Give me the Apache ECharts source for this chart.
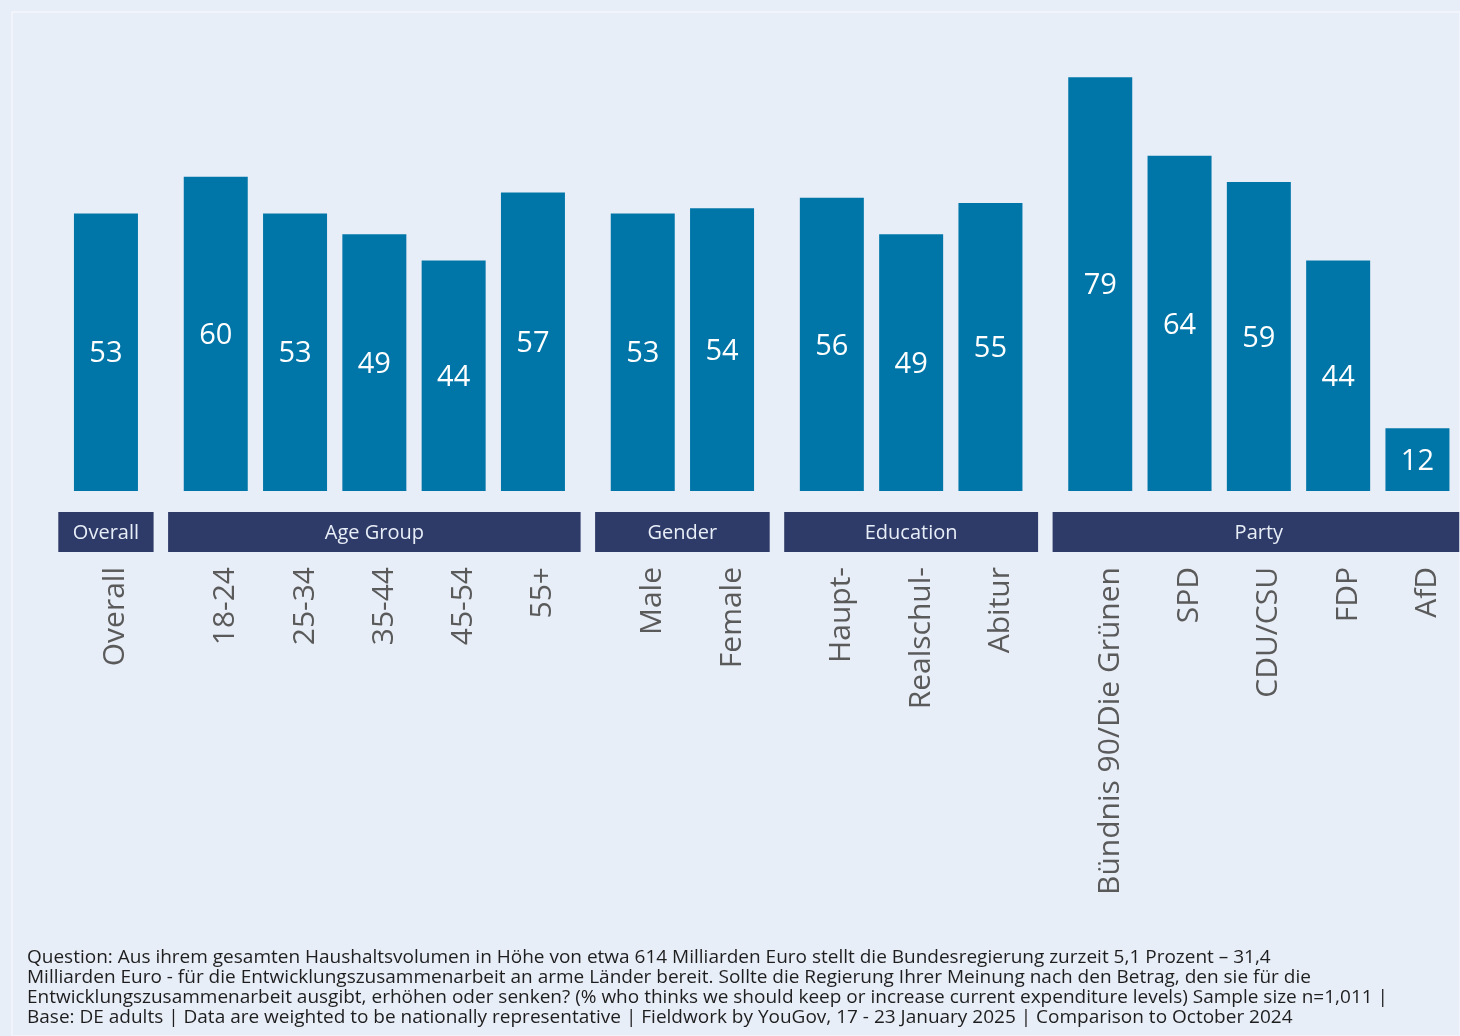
<!DOCTYPE html>
<html>
<head>
<meta charset="utf-8">
<script src="https://cdn.jsdelivr.net/npm/echarts@6/dist/echarts.min.js"></script>
<style>
  html, body { margin: 0; padding: 0; background: #e8eef8; }
  #chart { width: 1460px; height: 1036px; }
</style>
</head>
<body>
<div id="chart"></div>
<script>
// Survey groups and their sizes (number of bars per group)
const groupNames = ['Overall', 'Age Group', 'Gender', 'Education', 'Party'];
const groupSizes = [1, 5, 2, 3, 5];

// Bar categories, in order across the groups
const categories = [
  'Overall',
  '18-24', '25-34', '35-44', '45-54', '55+',
  'Male', 'Female',
  'Haupt-', 'Realschul-', 'Abitur',
  'Bündnis 90/Die Grünen', 'SPD', 'CDU/CSU', 'FDP', 'AfD'
];

// % who think we should keep or increase current expenditure levels
const values = [
  53,
  60, 53, 49, 44, 57,
  53, 54,
  56, 49, 55,
  79, 64, 59, 44, 12
];

const footerLines = [
  'Question: Aus ihrem gesamten Haushaltsvolumen in Höhe von etwa 614 Milliarden Euro stellt die Bundesregierung zurzeit 5,1 Prozent – 31,4',
  'Milliarden Euro - für die Entwicklungszusammenarbeit an arme Länder bereit. Sollte die Regierung Ihrer Meinung nach den Betrag, den sie für die',
  'Entwicklungszusammenarbeit ausgibt, erhöhen oder senken? (% who thinks we should keep or increase current expenditure levels) Sample size n=1,011 |',
  'Base: DE adults | Data are weighted to be nationally representative | Fieldwork by YouGov, 17 - 23 January 2025 | Comparison to October 2024'
];

// Layout
const FONT = '"Open Sans", "Noto Sans", sans-serif';
const BAR_COLOR = '#0076a8';
const HEADER_COLOR = '#2e3a67';
const step = 79.3;        // width of one category slot
const groupGap = 30.5;    // extra space between groups
const firstLeft = 66.3;
const gridTop = 72;
const gridBottomY = 491;
const W = 1460, H = 1036;

const grids = [], xAxes = [], yAxes = [], series = [], graphics = [];
let offset = 0;
groupSizes.forEach((n, g) => {
  const left = firstLeft + offset * step + g * groupGap;
  const width = n * step;
  const cats = categories.slice(offset, offset + n);
  const vals = values.slice(offset, offset + n);
  grids.push({ left: left, width: width, top: gridTop, height: gridBottomY - gridTop });
  xAxes.push({
    type: 'category', gridIndex: g, data: cats,
    axisLine: { show: false }, axisTick: { show: false }, splitLine: { show: false },
    axisLabel: {
      rotate: 90, margin: 76, fontSize: 30, color: '#5a5a5a', fontFamily: FONT, interval: 0,
      // upright labels sit just right of the bar centre
      verticalAlign: 'top', lineHeight: 20
    }
  });
  yAxes.push({ type: 'value', gridIndex: g, min: 0, max: 80, show: false, splitLine: { show: false } });
  series.push({
    type: 'bar', xAxisIndex: g, yAxisIndex: g, data: vals, barWidth: 64,
    itemStyle: { color: BAR_COLOR },
    label: { show: true, position: 'inside', color: '#ffffff', fontSize: 29, fontFamily: FONT, offset: [0, 2] },
    silent: true
  });
  // group header band below the bars
  const hx = left - 8, hw = width + 16;
  graphics.push({
    type: 'rect', shape: { x: hx, y: 512, width: Math.min(hw, W - hx), height: 40 },
    style: { fill: HEADER_COLOR }, silent: true
  });
  graphics.push({
    type: 'text', x: hx + hw / 2, y: 533,
    style: { text: groupNames[g], fill: '#e8eef8', fontSize: 20, fontFamily: FONT, align: 'center', verticalAlign: 'middle' },
    silent: true
  });
  offset += n;
});

// frame line
graphics.push({
  type: 'rect', shape: { x: 12, y: 12, width: W - 12, height: H - 12 },
  style: { fill: 'none', stroke: '#f3f6fb', lineWidth: 1.5 }, silent: true
});

// footnote
footerLines.forEach((line, i) => {
  graphics.push({
    type: 'text', x: 27, y: 958 + i * 20,
    style: { text: line, fill: '#1e1e1e', fontSize: 19, fontFamily: FONT, verticalAlign: 'middle' },
    silent: true
  });
});

const chart = echarts.init(document.getElementById('chart'), null, { renderer: 'canvas' });
chart.setOption({
  backgroundColor: '#e8eef8',
  animation: false,
  grid: grids,
  xAxis: xAxes,
  yAxis: yAxes,
  series: series,
  graphic: graphics
});
</script>
</body>
</html>
